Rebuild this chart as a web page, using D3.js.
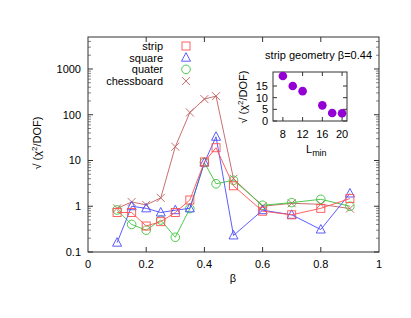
<!DOCTYPE html>
<html><head><meta charset="utf-8">
<script src="https://cdn.jsdelivr.net/npm/d3@7"></script>
<style>body{margin:0;background:#fff}svg{display:block;font-family:"Liberation Sans",Arial,sans-serif}</style>
</head><body><svg id="c" width="411" height="318"></svg>
<script>
const betas = [0.1,0.15,0.2,0.25,0.3,0.35,0.4,0.44,0.5,0.6,0.7,0.8,0.9];
const strip      = [0.73,0.73,0.37,0.46,0.73,1.37,9.3,19,2.8,0.78,0.65,0.90,1.47];
const square     = [0.16,1.0,0.90,0.73,0.82,0.90,9.0,33,0.23,0.82,0.65,0.31,1.9];
const quater     = [0.83,0.40,0.30,0.50,0.21,0.89,9.0,3.1,3.7,1.05,1.2,1.42,1.0];
const chessboard = [0.9,1.24,1.07,1.52,20,112,220,255,4.0,1.0,1.16,1.1,0.89];
const seriesNames = ["strip","square","quater","chessboard"];
const yTicks = [0.1,1,10,100,1000];
const xTicks = [0,0.2,0.4,0.6,0.8,1];
const Lmin = [8,10,12,16,18,20];
const insetVals = [19.3,15,12.8,6.7,3.4,3.3];
const insetXTicks = [8,12,16,20];
const insetYTicks = [0,5,10,15];

const svg = d3.select("#c");
const x = d3.scaleLinear().domain([0,1]).range([88,379]);
const y = d3.scaleLog().domain([0.1,5000]).range([252,37]);
const frame = "#333";

// minor ticks
const minor = [];
for (let e=-1;e<4;e++) for (let k=2;k<=9;k++){const v=k*Math.pow(10,e); if(v<5000) minor.push(v);}
const g = svg.append("g");
minor.forEach(v=>{
  g.append("line").attr("x1",88).attr("x2",91).attr("y1",y(v)).attr("y2",y(v)).attr("stroke",frame).attr("stroke-width",0.6);
  g.append("line").attr("x1",379).attr("x2",376).attr("y1",y(v)).attr("y2",y(v)).attr("stroke",frame).attr("stroke-width",0.6);
});
yTicks.forEach(v=>{
  g.append("line").attr("x1",88).attr("x2",93).attr("y1",y(v)).attr("y2",y(v)).attr("stroke",frame);
  g.append("line").attr("x1",379).attr("x2",374).attr("y1",y(v)).attr("y2",y(v)).attr("stroke",frame);
  g.append("text").attr("x",81).attr("y",y(v)).attr("dy","0.35em").attr("text-anchor","end").attr("font-size",11).attr("fill","#000").text(d3.format("~g")(v));
});
xTicks.forEach(v=>{
  if(v>0&&v<1){
  g.append("line").attr("x1",x(v)).attr("x2",x(v)).attr("y1",252).attr("y2",247).attr("stroke",frame);
  g.append("line").attr("x1",x(v)).attr("x2",x(v)).attr("y1",37).attr("y2",42).attr("stroke",frame);}
  g.append("text").attr("x",x(v)).attr("y",268).attr("text-anchor","middle").attr("font-size",11).text(d3.format("~g")(v));
});
g.append("rect").attr("x",88).attr("y",37).attr("width",291).attr("height",215).attr("fill","none").attr("stroke",frame).attr("stroke-width",1);

// axis labels
const yl = svg.append("text").attr("transform","translate(41,143) rotate(-90)").attr("text-anchor","middle").attr("font-size",11);
yl.append("tspan").text("√ (χ");
yl.append("tspan").attr("dy",-4).attr("font-size",8).text("2");
yl.append("tspan").attr("dy",4).text("/DOF)");
svg.append("text").attr("x",233).attr("y",282).attr("text-anchor","middle").attr("font-size",11).text("β");

const colors = {strip:"#ff5050",square:"#4a4aff",quater:"#3cc43c",chessboard:"#c06060"};
const data = {strip,square,quater,chessboard};
const line = d3.line().x((d,i)=>x(betas[i])).y(d=>y(d));

function marker(sel,name,cx,cy){
  const c = colors[name];
  if(name==="strip") sel.append("rect").attr("x",cx-4).attr("y",cy-4).attr("width",8).attr("height",8).attr("fill","none").attr("stroke",c).attr("stroke-width",0.9);
  else if(name==="square") sel.append("path").attr("d",`M${cx},${cy-5}L${cx+4.5},${cy+3.5}L${cx-4.5},${cy+3.5}Z`).attr("fill","none").attr("stroke",c).attr("stroke-width",0.9);
  else if(name==="quater") sel.append("circle").attr("cx",cx).attr("cy",cy).attr("r",4.3).attr("fill","none").attr("stroke",c).attr("stroke-width",0.9);
  else sel.append("path").attr("d",`M${cx-4},${cy-4}L${cx+4},${cy+4}M${cx-4},${cy+4}L${cx+4},${cy-4}`).attr("stroke",c).attr("stroke-width",0.9);
}
const order = ["chessboard","quater","square","strip"];
order.forEach(name=>{
  const sg = svg.append("g");
  sg.append("path").datum(data[name]).attr("d",line).attr("fill","none").attr("stroke",colors[name]).attr("stroke-width",0.9);
  data[name].forEach((v,i)=>marker(sg,name,x(betas[i]),y(v)));
});

// legend
seriesNames.forEach((name,i)=>{
  const yy = 46+i*11.7;
  svg.append("text").attr("x",163).attr("y",yy).attr("dy","0.35em").attr("text-anchor","end").attr("font-size",11).text(name);
  marker(svg,name,186,yy);
});

// inset
const ix = d3.scaleLinear().domain([6,21]).range([273,347]);
const iy = d3.scaleLinear().domain([0,21]).range([121,72]);
const ig = svg.append("g");
ig.append("rect").attr("x",273).attr("y",72).attr("width",74).attr("height",49).attr("fill","none").attr("stroke",frame);
insetYTicks.forEach(v=>{
  ig.append("line").attr("x1",273).attr("x2",277).attr("y1",iy(v)).attr("y2",iy(v)).attr("stroke",frame);
  ig.append("line").attr("x1",347).attr("x2",343).attr("y1",iy(v)).attr("y2",iy(v)).attr("stroke",frame);
  ig.append("text").attr("x",268).attr("y",iy(v)).attr("dy","0.35em").attr("text-anchor","end").attr("font-size",11).text(v);
});
insetXTicks.forEach(v=>{
  ig.append("line").attr("x1",ix(v)).attr("x2",ix(v)).attr("y1",121).attr("y2",117).attr("stroke",frame);
  ig.append("line").attr("x1",ix(v)).attr("x2",ix(v)).attr("y1",72).attr("y2",76).attr("stroke",frame);
  ig.append("text").attr("x",ix(v)).attr("y",138).attr("text-anchor","middle").attr("font-size",11).text(v);
});
Lmin.forEach((L,i)=>ig.append("circle").attr("cx",ix(L)).attr("cy",iy(insetVals[i])).attr("r",4.3).attr("fill","#9400d3"));
ig.append("text").attr("x",372).attr("y",59).attr("text-anchor","end").attr("font-size",11).text("strip geometry β=0.44");
const il = ig.append("text").attr("transform","translate(247,97) rotate(-90)").attr("text-anchor","middle").attr("font-size",11);
il.append("tspan").text("√ (χ");
il.append("tspan").attr("dy",-4).attr("font-size",8).text("2");
il.append("tspan").attr("dy",4).text("/DOF)");
const xl = ig.append("text").attr("x",306).attr("y",153).attr("font-size",11);
xl.append("tspan").text("L");
xl.append("tspan").attr("dy",3).attr("font-size",9).text("min");
</script></body></html>
